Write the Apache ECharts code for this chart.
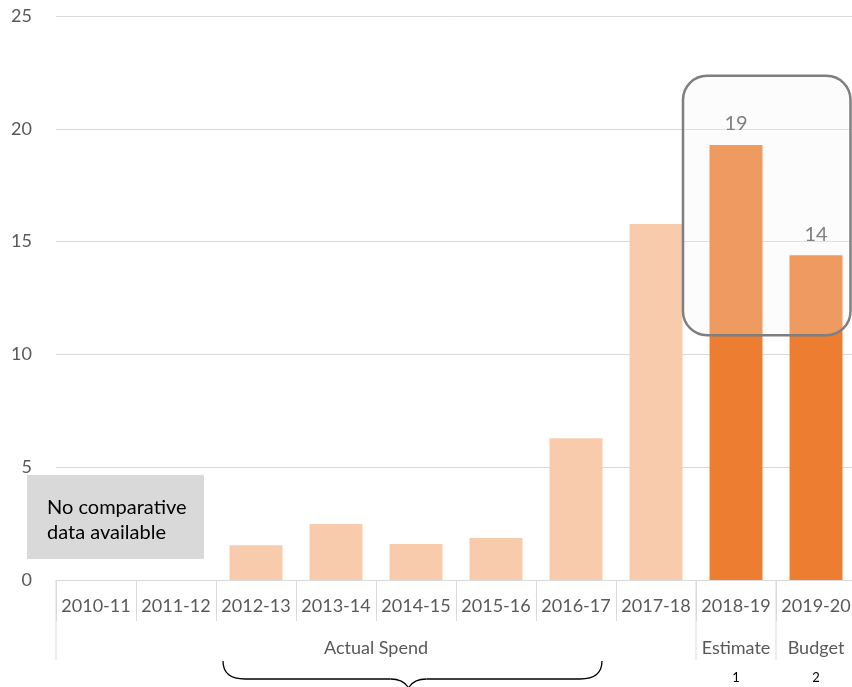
<!DOCTYPE html>
<html>
<head>
<meta charset="utf-8">
<script src="https://cdn.jsdelivr.net/npm/echarts@6/dist/echarts.min.js"></script>
<style>
  html, body { margin: 0; padding: 0; background: #fff; }
  #main { width: 852px; height: 687px; }
</style>
</head>
<body>
<div id="main"></div>
<script>
// years on the x axis
var years = ['2010-11', '2011-12', '2012-13', '2013-14', '2014-15', '2015-16', '2016-17', '2017-18', '2018-19', '2019-20'];
// spend per year (no comparative data for the first two)
var spend = [null, null, 1.54, 2.48, 1.6, 1.86, 6.28, 15.78, 19.28, 14.4];
// second level of the x axis
var groupNames = ['Actual Spend', 'Estimate', 'Budget'];
var groupSpans = [8, 1, 1];
var footnotes = ['', '1', '2'];
var yTicks = [0, 5, 10, 15, 20, 25];

var FONT = 'Lato';
var GREY = '#595959';
var LINE = '#d9d9d9';

// which group each year sits in
var groupOf = [];
groupSpans.forEach(function (n, g) { for (var i = 0; i < n; i++) groupOf.push(g); });

var chart = echarts.init(document.getElementById('main'));

var option = {
    animation: false,
    grid: { left: 56, top: 16, width: 800, height: 564, containLabel: false, outerBoundsMode: 'none' },
    xAxis: {
        type: 'category',
        data: years,
        axisLine: { lineStyle: { color: LINE, width: 1 } },
        axisTick: { show: true, interval: 0, length: 41, lineStyle: { color: LINE } },
        axisLabel: { interval: 0, color: GREY, fontSize: 18, fontFamily: FONT, margin: 17 }
    },
    yAxis: {
        type: 'value',
        min: yTicks[0],
        max: yTicks[yTicks.length - 1],
        interval: 5,
        axisLine: { show: false },
        axisTick: { show: false },
        axisLabel: { color: GREY, fontSize: 18, fontFamily: FONT, margin: 24 },
        splitLine: { lineStyle: { color: LINE, width: 1 } }
    },
    series: [{
        type: 'bar',
        data: spend,
        barWidth: 53,
        itemStyle: {
            color: function (p) { return groupOf[p.dataIndex] === 0 ? '#F8CBAD' : '#ED7D31'; }
        },
        label: {
            show: true,
            position: 'top',
            distance: 11,
            color: GREY,
            fontSize: 20,
            fontFamily: FONT,
            formatter: function (p) { return groupOf[p.dataIndex] === 0 ? '' : String(Math.round(p.value)); }
        }
    }]
};
chart.setOption(option);

// helpers to place annotations from the axes
function cx(i) { return chart.convertToPixel({ xAxisIndex: 0 }, i); }
function py(v) { return chart.convertToPixel({ yAxisIndex: 0 }, v); }
var band = cx(1) - cx(0);
function boundary(i) { return cx(0) - band / 2 + i * band; }

var axisY = py(0);
var graphics = [];

// long separators between groups and group labels
var start = 0;
groupSpans.forEach(function (n, g) {
    graphics.push({
        type: 'line', silent: true,
        shape: { x1: boundary(start), y1: axisY, x2: boundary(start), y2: axisY + 80 },
        style: { stroke: LINE, lineWidth: 1 }
    });
    var mid = (boundary(start) + boundary(start + n)) / 2;
    graphics.push({
        type: 'text', silent: true,
        style: { text: groupNames[g], x: mid, y: axisY + 68, align: 'center', verticalAlign: 'middle',
                 fill: GREY, font: '18px ' + FONT }
    });
    if (footnotes[g]) {
        graphics.push({
            type: 'text', silent: true,
            style: { text: footnotes[g], x: mid, y: axisY + 98, align: 'center', verticalAlign: 'middle',
                     fill: '#000', font: '13px ' + FONT }
        });
    }
    start += n;
});

// highlight box around the estimate / budget years
var boxL = boundary(8) - 13, boxR = 850.5;
var boxT = py(22.35), boxB = py(10.85);
graphics.push({
    type: 'rect', silent: true, z: 100,
    shape: { x: boxL, y: boxT, width: boxR - boxL, height: boxB - boxT, r: 24 },
    style: { fill: 'rgba(242,242,242,0.25)', stroke: '#7f7f7f', lineWidth: 2.5 }
});

// no data note
graphics.push({
    type: 'rect', silent: true, z: 100,
    shape: { x: 27, y: 475, width: 177, height: 84 },
    style: { fill: '#d9d9d9' }
});
graphics.push({
    type: 'text', silent: true, z: 101,
    style: { text: 'No comparative\ndata available', x: 47, y: 520, verticalAlign: 'middle',
             fill: '#000', font: '20px ' + FONT, lineHeight: 25 }
});

// brace under the 2012-13 .. 2016-17 years
var bL = cx(2) - 33, bR = cx(6) + 26, bM = (bL + bR) / 2 - 4, bY = axisY + 99;
var braceStyle = { fill: 'none', stroke: '#000', lineWidth: 1.3 };
graphics.push(
    { type: 'bezierCurve', silent: true, z: 100, style: braceStyle,
      shape: { x1: bL, y1: bY - 18, cpx1: bL, cpy1: bY, x2: bL + 22, y2: bY } },
    { type: 'line', silent: true, z: 100, style: braceStyle,
      shape: { x1: bL + 22, y1: bY, x2: bM - 18, y2: bY } },
    { type: 'bezierCurve', silent: true, z: 100, style: braceStyle,
      shape: { x1: bM - 18, y1: bY, cpx1: bM - 5, cpy1: bY, x2: bM, y2: bY + 9 } },
    { type: 'bezierCurve', silent: true, z: 100, style: braceStyle,
      shape: { x1: bM, y1: bY + 9, cpx1: bM + 5, cpy1: bY, x2: bM + 18, y2: bY } },
    { type: 'line', silent: true, z: 100, style: braceStyle,
      shape: { x1: bM + 18, y1: bY, x2: bR - 22, y2: bY } },
    { type: 'bezierCurve', silent: true, z: 100, style: braceStyle,
      shape: { x1: bR - 22, y1: bY, cpx1: bR, cpy1: bY, x2: bR, y2: bY - 18 } }
);

chart.setOption({ graphic: graphics });
</script>
</body>
</html>
